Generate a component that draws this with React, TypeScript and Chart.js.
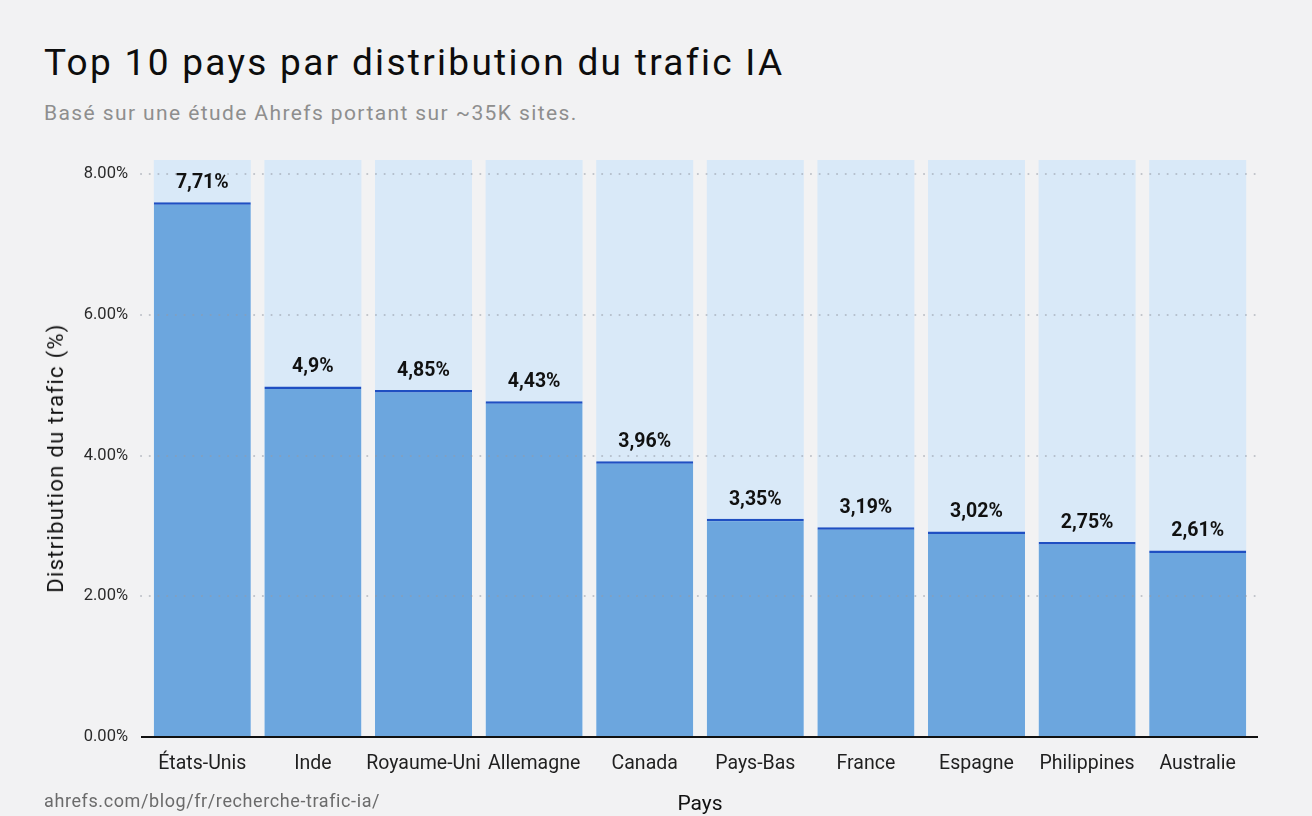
import { useEffect, useRef } from "react";
import { Chart, registerables } from "chart.js";
import type { ChartConfiguration, Plugin } from "chart.js";

Chart.register(...registerables);

const COUNTRIES = ["États-Unis", "Inde", "Royaume-Uni", "Allemagne", "Canada", "Pays-Bas", "France", "Espagne", "Philippines", "Australie"];
// bar heights as drawn (%)
const SHARE = [7.6, 4.98, 4.93, 4.77, 3.92, 3.1, 2.98, 2.92, 2.77, 2.65];
// printed labels above the bars
const SHARE_LABELS = ["7,71%", "4,9%", "4,85%", "4,43%", "3,96%", "3,35%", "3,19%", "3,02%", "2,75%", "2,61%"];
// light background track behind every bar
const TRACK = [8.2, 8.2, 8.2, 8.2, 8.2, 8.2, 8.2, 8.2, 8.2, 8.2];
const Y_TICKS = [0, 2, 4, 6, 8];
const GRID_LINES = [2, 4, 6, 8];

const FONT = "Roboto, 'Noto Sans', sans-serif";

// dotted grid on top of the bars, black baseline and value labels
const overlay: Plugin<"bar"> = {
  id: "overlay",
  afterDatasetsDraw(chart) {
    const { ctx, chartArea, scales } = chart;
    const y = scales.y;
    ctx.save();
    ctx.strokeStyle = "rgba(150,155,165,0.55)";
    ctx.lineWidth = 2;
    ctx.lineCap = "round";
    ctx.setLineDash([0.1, 8.6]);
    GRID_LINES.forEach((v) => {
      const py = Math.round(y.getPixelForValue(v));
      ctx.beginPath();
      ctx.moveTo(chartArea.left - 6, py);
      ctx.lineTo(chartArea.right + 5, py);
      ctx.stroke();
    });

    ctx.setLineDash([]);
    ctx.lineCap = "butt";
    ctx.strokeStyle = "#111111";
    ctx.lineWidth = 2;
    const y0 = y.getPixelForValue(0);
    ctx.beginPath();
    ctx.moveTo(chartArea.left - 6, y0);
    ctx.lineTo(chartArea.right + 5, y0);
    ctx.stroke();

    const meta = chart.getDatasetMeta(1);
    ctx.font = `bold 19.5px ${FONT}`;
    ctx.fillStyle = "#111111";
    ctx.textAlign = "center";
    ctx.textBaseline = "middle";
    meta.data.forEach((bar: any, i) => {
      ctx.fillText(SHARE_LABELS[i], bar.x, bar.y - 19);
    });
    ctx.restore();
  },
};

export default function App() {
  const canvasRef = useRef<HTMLCanvasElement | null>(null);

  useEffect(() => {
    const ctx = canvasRef.current!.getContext("2d")!;

    const config: ChartConfiguration<"bar", number[], string> = {
      type: "bar",
      data: {
        labels: COUNTRIES,
        datasets: [
          {
            label: "track",
            data: TRACK,
            backgroundColor: "#d9e9f8",
            borderWidth: 0,
            grouped: false,
            barPercentage: 0.877,
            categoryPercentage: 1,
            order: 2,
          },
          {
            label: "Distribution du trafic (%)",
            data: SHARE,
            backgroundColor: "#6ca6de",
            borderColor: "#1f4fc2",
            borderWidth: { top: 2.5, left: 0, right: 0, bottom: 0 },
            borderSkipped: "bottom",
            grouped: false,
            barPercentage: 0.877,
            categoryPercentage: 1,
            order: 1,
          },
        ],
      },
      options: {
        responsive: false,
        animation: false,
        devicePixelRatio: 1,
        layout: { padding: { top: 160, right: 59, bottom: 0, left: 0 } },
        plugins: {
          legend: { display: false },
          tooltip: { enabled: false },
        },
        scales: {
          x: {
            grid: { display: false, drawTicks: false },
            border: { display: false },
            ticks: {
              color: "#1f1f1f",
              font: { family: FONT, size: 19.5 },
              padding: 15,
              maxRotation: 0,
              autoSkip: false,
            },
            afterFit: (s) => {
              s.height = 79;
            },
          },
          y: {
            min: 0,
            max: 8.2,
            grid: { display: false, drawTicks: false },
            border: { display: false },
            afterBuildTicks: (s) => {
              s.ticks = Y_TICKS.map((v) => ({ value: v }));
            },
            ticks: {
              color: "#2a2a2a",
              font: { family: FONT, size: 16.5 },
              padding: 19,
              callback: (v) => `${Number(v).toFixed(2)}%`,
            },
            afterFit: (s) => {
              s.width = 147;
            },
          },
        },
      },
      plugins: [overlay],
    };

    const chart = new Chart(ctx, config);
    return () => chart.destroy();
  }, []);

  return (
    <div
      style={{
        position: "fixed",
        left: 0,
        top: 0,
        width: 1312,
        height: 816,
        background: "#f2f2f3",
        fontFamily: FONT,
        overflow: "hidden",
      }}
    >
      <div
        style={{
          position: "absolute",
          left: 44,
          top: 42,
          fontSize: 37,
          lineHeight: "42px",
          fontWeight: 400,
          letterSpacing: "2.3px",
          color: "#0d0d0d",
          whiteSpace: "nowrap",
        }}
      >
        Top 10 pays par distribution du trafic IA
      </div>
      <div
        style={{
          position: "absolute",
          left: 44,
          top: 100,
          fontSize: 21,
          lineHeight: "26px",
          letterSpacing: "1.4px",
          color: "#8e8e8e",
          whiteSpace: "nowrap",
        }}
      >
        Basé sur une étude Ahrefs portant sur ~35K sites.
      </div>
      <canvas
        ref={canvasRef}
        width={1312}
        height={816}
        style={{ position: "absolute", left: 0, top: 0, width: 1312, height: 816 }}
      />
      <div
        style={{
          position: "absolute",
          left: 56,
          top: 458,
          transform: "translate(-50%, -50%) rotate(-90deg)",
          fontSize: 22,
          lineHeight: "26px",
          letterSpacing: "1.3px",
          color: "#111111",
          whiteSpace: "nowrap",
        }}
      >
        Distribution du trafic (%)
      </div>
      <div
        style={{
          position: "absolute",
          left: 700,
          top: 803,
          transform: "translate(-50%, -50%)",
          fontSize: 21,
          lineHeight: "26px",
          color: "#111111",
          whiteSpace: "nowrap",
        }}
      >
        Pays
      </div>
      <div
        style={{
          position: "absolute",
          left: 44,
          top: 789,
          fontSize: 18,
          lineHeight: "24px",
          letterSpacing: "0.6px",
          color: "#6b6b6b",
          whiteSpace: "nowrap",
        }}
      >
        ahrefs.com/blog/fr/recherche-trafic-ia/
      </div>
    </div>
  );
}
